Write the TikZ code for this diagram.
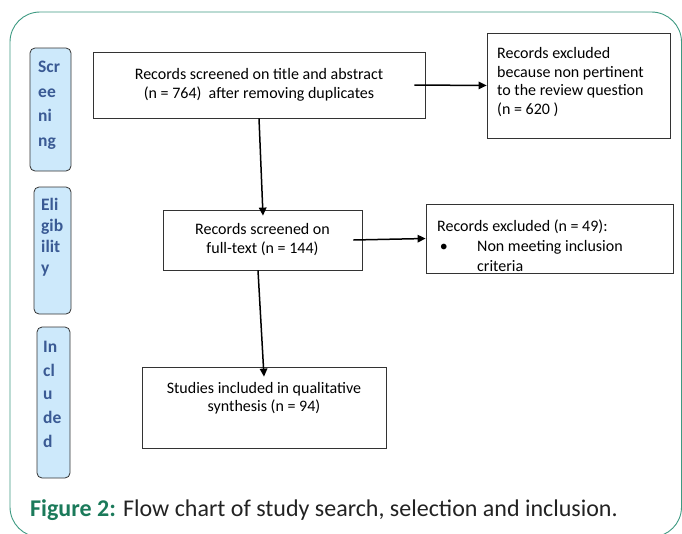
\documentclass[tikz,border=0pt]{standalone}
\usepackage{fontspec}
\setmainfont{Carlito}
\usetikzlibrary{arrows.meta}
\definecolor{framecol}{HTML}{3E9A82}
\definecolor{stagefill}{HTML}{CDE9FB}
\definecolor{stageblue}{HTML}{3A5A94}
\definecolor{capgreen}{HTML}{1B7A5A}
\definecolor{captext}{HTML}{222222}
\tikzset{
  flowbox/.style={draw=black!80, line width=0.8pt, inner sep=0pt, align=center,
    font=\fontsize{16}{19}\selectfont},
  flowtext/.style={inner sep=0pt, align=center, font=\fontsize{16}{18.5}\selectfont},
  lefttext/.style={inner sep=0pt, anchor=north west, align=left},
  stagebox/.style={draw=black!80, fill=stagefill, rounded corners=5pt, line width=0.8pt, inner sep=0pt},
  stagetext/.style={text=stageblue, align=left, anchor=north west, inner sep=0pt},
  arr/.style={-{Triangle[length=8pt,width=7.5pt]}, line width=1.5pt, black}
}
\begin{document}
\begin{tikzpicture}[x=1pt,y=-1pt]
\useasboundingbox (0,0) rectangle (682,533);
\begin{scope}
\clip (0,0) rectangle (682,533);
\draw[framecol, line width=0.9pt, rounded corners=30pt] (10,12) rectangle (681.5,537);
\end{scope}

% stage labels
\node[stagebox, minimum width=41pt, minimum height=123pt] (s1) at (50.5,109.5) {};
\node[stagetext, font=\fontsize{17.5}{24.5}\selectfont\bfseries] (s1t) at (38,61) {Scr\\ee\\ni\\ng};
\node[stagebox, minimum width=37pt, minimum height=127pt] (s2) at (52.5,250.5) {};
\node[stagetext, font=\fontsize{17.5}{21}\selectfont\bfseries] (s2t) at (41,198) {Eli\\gib\\ilit\\y};
\node[stagebox, minimum width=33pt, minimum height=151pt] (s3) at (53.5,402.5) {};
\node[stagetext, font=\fontsize{17.5}{23.7}\selectfont\bfseries] (s3t) at (43,341) {In\\cl\\u\\de\\d};

% flow boxes
\node[flowbox, minimum width=332pt, minimum height=66pt] (b1) at (259,85)
  {Records screened on title and abstract\\(n = 764)\ \ after removing duplicates};
\node[flowbox, minimum width=183pt, minimum height=105pt] (ex1) at (578.5,85.5) {};
\node[lefttext, font=\fontsize{16}{18.7}\selectfont] (ex1t) at (497,47)
  {Records excluded\\because non pertinent\\to the review question\\(n = 620 )};
\node[flowbox, minimum width=199pt, minimum height=60pt] (b2) at (262.5,240)
  {Records screened on\\full-text (n = 144)};
\node[flowbox, minimum width=247pt, minimum height=69pt] (ex2) at (549.5,238.5) {};
\node[lefttext, font=\fontsize{16}{20}\selectfont] (ex2t) at (437,220)
  {Records excluded (n = 49):\\\makebox[40pt][l]{\,•}Non meeting inclusion\\\hspace*{40pt}criteria};
\node[flowbox, minimum width=244pt, minimum height=81pt] (b4) at (264,407.5) {};
\node[flowtext] (b4t) at (264,398) {Studies included in qualitative\\synthesis (n = 94)};

% connectors
\draw[arr] ([xshift=-11pt]b1.east) -- (ex1.west);
\draw[arr] (b1.south) -- ([xshift=0.5pt,yshift=-6pt]b2.north);
\draw[arr] ([xshift=-9pt]b2.east) -- (ex2.west);
\draw[arr] ([xshift=-4.5pt]b2.south) -- ([yshift=-10pt]b4.north);

% caption
\node[anchor=base west, inner sep=0pt, text=captext, font=\fontsize{24}{28}\selectfont] (cap) at (30,516)
  {\textcolor{capgreen}{\bfseries Figure 2:} Flow chart of study search, selection and inclusion.};
\end{tikzpicture}
\end{document}
